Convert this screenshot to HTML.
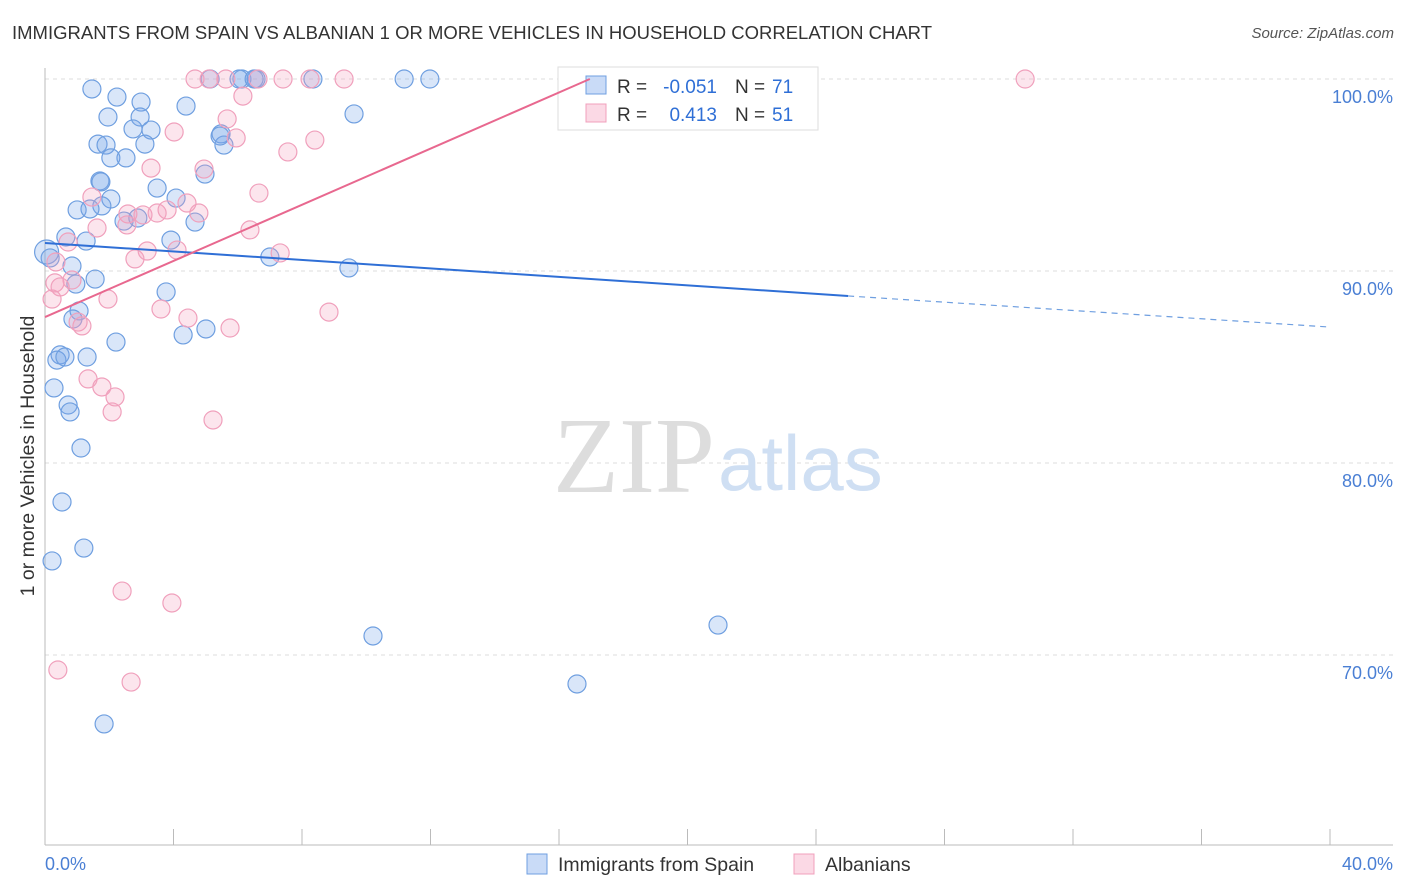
<!DOCTYPE html>
<html><head><meta charset="utf-8">
<style>
body{margin:0;background:#fff;font-family:"Liberation Sans",sans-serif;}
#wrap{position:relative;width:1406px;height:892px;overflow:hidden;}
.t{position:absolute;white-space:nowrap;}
</style></head>
<body>
<div id="wrap">
<div class="t" style="left:12px;top:22px;font-size:18.5px;color:#333;">IMMIGRANTS FROM SPAIN VS ALBANIAN 1 OR MORE VEHICLES IN HOUSEHOLD CORRELATION CHART</div>
<div class="t" style="right:12px;top:25px;font-size:15px;color:#555;font-style:italic;">Source: ZipAtlas.com</div>
<svg id="chart" width="1406" height="892" style="position:absolute;left:0;top:0"></svg>
</div>
<script>
const yTicks=[100,90,80,70];
const yTickLabels=["100.0%","90.0%","80.0%","70.0%"];
const xTickLabels=["0.0%","40.0%"];
const spainX=[1.46,2.24,2.99,4.39,1.96,2.96,2.74,3.30,1.65,1.90,3.11,2.52,2.05,1.71,1.74,3.49,2.05,1.77,1.00,1.40,4.08,4.98,2.46,2.89,4.67,5.48,5.57,5.45,5.14,6.13,6.57,6.04,6.51,8.34,11.18,11.98,9.62,0.65,1.28,3.92,0.05,0.16,0.84,0.96,1.56,3.77,1.06,0.87,2.21,4.30,5.01,7.00,9.46,0.47,0.37,0.62,1.31,0.28,0.72,0.78,1.12,0.53,1.21,0.22,10.21,20.95,16.56,1.84];
const spainY=[99.48,99.06,98.80,98.59,98.02,98.02,97.40,97.34,96.61,96.56,96.61,95.89,95.89,94.69,94.64,94.32,93.75,93.39,93.18,93.23,93.80,95.05,92.60,92.76,92.55,97.14,96.56,97.03,100,100,100,100,100,100,100,100,98.18,91.77,91.56,91.61,90.99,90.68,90.26,89.32,89.58,88.91,87.92,87.50,86.30,86.67,86.98,90.73,90.16,85.63,85.36,85.52,85.52,83.91,83.02,82.66,80.78,77.97,75.57,74.90,70.99,71.56,68.49,66.41];
const albX=[4.67,5.11,5.63,6.63,7.41,8.25,9.31,30.51,6.16,5.67,4.02,5.95,8.40,7.56,3.30,4.95,6.66,1.46,4.42,3.49,4.79,2.58,3.80,3.05,1.62,6.38,2.55,0.72,4.11,3.18,2.80,7.32,0.34,0.84,0.31,0.47,0.22,1.96,3.61,8.84,4.45,1.03,1.15,5.76,1.34,1.77,2.18,2.09,5.23,2.40,3.95,0.40,2.68];
const albY=[100,100,100,100,100,100,100,100,99.11,97.92,97.24,96.93,96.82,96.20,95.36,95.31,94.06,93.85,93.54,93.02,93.02,92.97,93.18,92.92,92.24,92.14,92.40,91.51,91.09,91.04,90.63,90.94,90.47,89.53,89.38,89.17,88.54,88.54,88.02,87.86,87.55,87.34,87.14,87.03,84.38,83.96,83.44,82.66,82.24,73.33,72.71,69.22,68.59];
const spainTrend=[91.46,88.70,87.08];
const spainTrendX=[0,25,40];
const albTrend=[87.60,100];
const albTrendX=[0,16.96];

const NS="http://www.w3.org/2000/svg";
const svg=document.getElementById('chart');
const X0=45,X1=1330,Y100=79,PXPER=19.2;
const xs=v=>X0+(v/40)*(X1-X0);
const ys=v=>Y100+(100-v)*PXPER;
function mk(tag,attrs,parent){const e=document.createElementNS(NS,tag);for(const k in attrs)e.setAttribute(k,attrs[k]);(parent||svg).appendChild(e);return e;}

yTicks.forEach((t,i)=>{
 const g=mk('line',{x1:X0,x2:1393,y1:ys(t),y2:ys(t),stroke:'#ddd','stroke-dasharray':'4,4'});
 
 
 const l=mk('text',{x:1393,y:ys(t)+24,'text-anchor':'end','font-size':18,fill:'#4a7fd4','font-family':'Liberation Sans'});
 l.textContent=yTickLabels[i];
 
 
});
const ax=mk('line',{x1:X0,x2:X0,y1:68,y2:845,stroke:'#bbb'});


const bx=mk('line',{x1:X0,x2:1393,y1:845,y2:845,stroke:'#bbb'});


for(let i=0;i<=10;i++){
 const tk=mk('line',{x1:xs(i*4),x2:xs(i*4),y1:829,y2:845,stroke:'#bbb'});
 
 
}
const xl0=mk('text',{x:45,y:870,'font-size':18,fill:'#4a7fd4','font-family':'Liberation Sans'});xl0.textContent=xTickLabels[0];


const xl1=mk('text',{x:1393,y:870,'text-anchor':'end','font-size':18,fill:'#4a7fd4','font-family':'Liberation Sans'});xl1.textContent=xTickLabels[1];


const yt=mk('text',{x:34,y:456,transform:'rotate(-90 34 456)','text-anchor':'middle','font-size':19.5,fill:'#333','font-family':'Liberation Sans'});yt.textContent='1 or more Vehicles in Household';


const wm=mk('text',{x:553,y:492,'font-size':108,fill:'#ddd','font-family':'Liberation Serif'});wm.textContent='ZIP';


const wm2=mk('text',{x:718,y:490,'font-size':78,fill:'#cfdff3','font-family':'Liberation Sans'});wm2.textContent='atlas';



spainX.forEach((x,i)=>{
 const c=mk('circle',{cx:xs(x),cy:ys(spainY[i]),r:(i==40?12:9),fill:'rgba(120,165,235,0.28)',stroke:'#6f9fe0','stroke-width':1.2});
 
 
});
albX.forEach((x,i)=>{
 const c=mk('circle',{cx:xs(x),cy:ys(albY[i]),r:9,fill:'rgba(245,160,190,0.28)',stroke:'#f0a0bc','stroke-width':1.2});
 
 
});

const lg=mk('g',{});


mk('rect',{x:558,y:67,width:260,height:63,fill:'#fff',stroke:'#ddd'},lg);
mk('rect',{x:586,y:76,width:20,height:18,fill:'rgba(120,165,235,0.4)',stroke:'#6f9fe0'},lg);
mk('rect',{x:586,y:104,width:20,height:18,fill:'rgba(245,160,190,0.4)',stroke:'#f0a0bc'},lg);
const rows=[["-0.051","71",93],["0.413","51",121]];
rows.forEach(r=>{
 const a=mk('text',{x:617,y:r[2],'font-size':19,fill:'#333','font-family':'Liberation Sans'},lg);a.textContent='R = ';
 const b=mk('text',{x:717,y:r[2],'text-anchor':'end','font-size':19,fill:'#2f6fd6','font-family':'Liberation Sans'},lg);b.textContent=r[0];
 const c=mk('text',{x:735,y:r[2],'font-size':19,fill:'#333','font-family':'Liberation Sans'},lg);c.textContent='N = ';
 const d=mk('text',{x:772,y:r[2],'font-size':19,fill:'#2f6fd6','font-family':'Liberation Sans'},lg);d.textContent=r[1];
});

const st=mk('line',{x1:xs(spainTrendX[0]),y1:ys(spainTrend[0]),x2:xs(spainTrendX[1]),y2:ys(spainTrend[1]),stroke:'#2f6fd6','stroke-width':2});


const sd=mk('line',{x1:xs(spainTrendX[1]),y1:ys(spainTrend[1]),x2:xs(spainTrendX[2]),y2:ys(spainTrend[2]),stroke:'#6f9fe0','stroke-width':1.2,'stroke-dasharray':'6,5'});


const pt=mk('line',{x1:xs(albTrendX[0]),y1:ys(albTrend[0]),x2:xs(albTrendX[1]),y2:ys(albTrend[1]),stroke:'#e8688f','stroke-width':2});



const bl=mk('g',{});


mk('rect',{x:527,y:854,width:20,height:20,fill:'rgba(120,165,235,0.4)',stroke:'#6f9fe0'},bl);
const b1=mk('text',{x:558,y:871,'font-size':19.5,fill:'#333','font-family':'Liberation Sans'},bl);b1.textContent='Immigrants from Spain';
mk('rect',{x:794,y:854,width:20,height:20,fill:'rgba(245,160,190,0.4)',stroke:'#f0a0bc'},bl);
const b2=mk('text',{x:825,y:871,'font-size':19.5,fill:'#333','font-family':'Liberation Sans'},bl);b2.textContent='Albanians';
</script>
</body></html>
